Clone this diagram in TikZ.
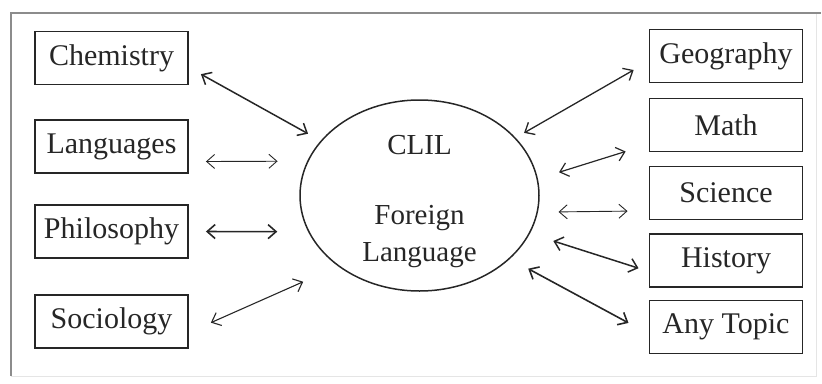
\documentclass[tikz,border=0pt]{standalone}
\usepackage{fontspec}
\setmainfont{Liberation Serif}
\usepackage{tikz}
\usetikzlibrary{shapes,shapes.geometric}
\usetikzlibrary{arrows.meta}
\definecolor{frameline}{gray}{0.55}
\definecolor{inkgray}{gray}{0.15}
\tikzset{
	subjectnode/.style={rectangle, draw=inkgray, line width=1.9pt, minimum width=153pt, minimum height=53pt, inner sep=0pt, font=\fontsize{30}{34}\selectfont, text=inkgray},
	clilnode/.style={ellipse, draw=inkgray, line width=1.5pt, minimum width=239pt, minimum height=191pt, inner sep=0pt},
	linkarrow/.style={<->, draw=inkgray, line width=1.2pt}
}
\begin{document}
\begin{tikzpicture}[x=1pt,y=-1pt,>={Straight Barb[length=8pt,width=14pt]}]
	\useasboundingbox (0,0) rectangle (822,383);
	% outer frame
	\draw[black!10, line width=1pt] (816,13) -- (816,376) -- (11,376);
	\draw[frameline, line width=2pt] (11,376) -- (11,13) -- (821,13);

	\node[clilnode] (clil) at (419.5,195.5) {};
	\node[align=center, font=\fontsize{29}{37}\selectfont, text=inkgray] (cliltext) at (419.5,202) {CLIL\\[33pt]Foreign\\Language};

	% left subjects
	\node[subjectnode] (chem) at (111.5,58) {Chemistry};
	\node[subjectnode] (lang) at (111.5,146.5) {Languages};
	\node[subjectnode] (phil) at (111.5,231.5) {Philosophy};
	\node[subjectnode] (soc) at (111.5,321.5) {Sociology};

	% right subjects
	\node[subjectnode] (geo) at (726,56) {Geography};
	\node[subjectnode] (maths) at (726,125) {Math};
	\node[subjectnode] (sci) at (726,193) {Science};
	\node[subjectnode] (hist) at (726,260.5) {History};
	\node[subjectnode] (anytopic) at (726,327) {Any Topic};

	\draw[linkarrow, line width=1.5pt, shorten <=13.7pt, shorten >=14.4pt] (chem.-7.7) -- (clil.151.5);
	\draw[linkarrow, line width=0.9pt, shorten <=17pt, shorten >=29.6pt] (lang.-11.45) -- (clil.163.3);
	\draw[linkarrow, line width=1.6pt, shorten <=17pt, shorten >=30.8pt] (phil.east) -- (clil.198);
	\draw[linkarrow, line width=1.1pt, shorten <=24pt, shorten >=38.1pt] (soc.-8.2) -- (clil.221.9);

	\draw[linkarrow, line width=1.3pt, shorten <=17.2pt, shorten >=9.7pt] (geo.184.1) -- (clil.31.2);
	\draw[linkarrow, line width=1.2pt, shorten <=24pt, shorten >=22.1pt] (maths.194) -- (clil.8.9);
	\draw[linkarrow, line width=0.9pt, shorten <=21pt, shorten >=20.6pt] (sci.193.2) -- (clil.352.5);
	\draw[linkarrow, line width=1.5pt, shorten <=10.5pt, shorten >=24.5pt] (hist.188) -- (clil.341.5);
	\draw[linkarrow, line width=1.6pt, shorten <=22.8pt, shorten >=20.7pt] (anytopic.185.1) -- (clil.325.3);
\end{tikzpicture}
\end{document}
